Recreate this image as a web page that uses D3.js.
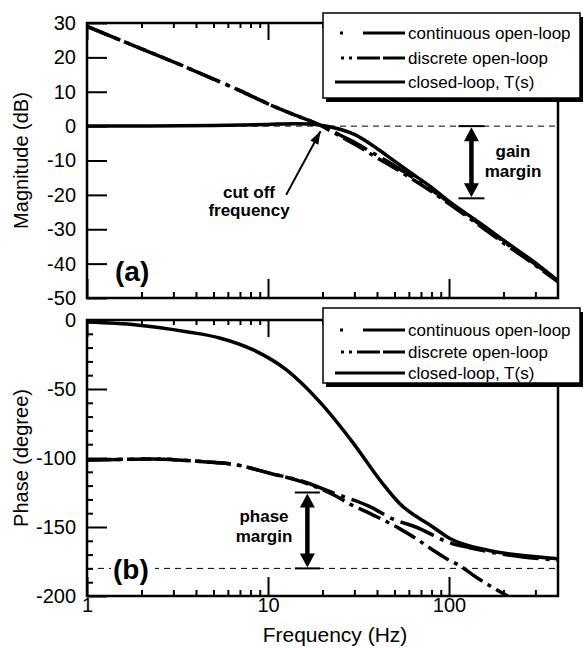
<!DOCTYPE html>
<html>

<head>
    <meta charset="utf-8">
    <title>Bode Plot</title>
    <script src="https://d3js.org/d3.v7.min.js"></script>
    <style>
        body {
            margin: 0;
            background: white;
        }

        text {
            font-family: "Liberation Sans", Arial, sans-serif;
            fill: black;
        }
    </style>
</head>

<body>
    <div class="inner"></div>
    <script>
        // magnitude (dB)
        const freqMagOpen = [1, 2, 3, 5, 7, 10, 14, 17, 20, 22, 25, 30, 40, 50, 60, 80, 100, 150, 200, 300, 400]
        const magContinuous = [29, 22.5, 18.7, 13.7, 10.3, 6.5, 3.3, 1.6, 0, -1.1, -2.6, -4.7, -8.5, -11.5, -14.2, -18.5, -22.2, -28.8, -33.6, -40.2, -45]
        const magDiscrete = [29, 22.5, 18.7, 13.7, 10.3, 6.5, 3.3, 1.5, -0.1, -1.3, -2.9, -5.2, -9.2, -12.2, -14.8, -19, -22.6, -29.2, -34, -40.5, -45.3]
        const freqMagClosed = [1, 2, 5, 10, 14, 17, 20, 25, 30, 40, 50, 60, 80, 100, 150, 200, 300, 400]
        const magClosed = [0, 0.05, 0.2, 0.5, 0.7, 0.6, 0.2, -0.9, -2.4, -6.5, -10.2, -13.2, -17.8, -21.9, -28.4, -33.2, -39.8, -45]

        // phase (degree)
        const freqPhaseContinuous = [1, 1.5, 2.3, 3, 4.4, 6.7, 10.2, 15.6, 23.7, 36.3, 48.5, 65.5, 104, 130, 166, 250, 400]
        const phaseContinuous = [-101.5, -101, -100.7, -101.2, -102.7, -105, -111, -117, -126, -135, -144, -150, -162, -165, -168, -171.5, -174]
        const freqPhaseDiscrete = [1, 1.5, 2.3, 3, 4.4, 6.7, 10.2, 15.6, 23.7, 28, 36.3, 45, 53, 65, 81, 100, 113, 140, 170, 214]
        const phaseDiscrete = [-101.5, -101, -100.7, -101.2, -102.7, -105, -111, -117.5, -127.5, -133, -140, -146, -151, -158, -166.5, -174, -177.5, -186, -193, -200.5]
        const freqPhaseClosed = [1, 1.88, 3.55, 5.4, 8.3, 12.6, 19.2, 29.5, 42.7, 53, 81.5, 100, 166, 250, 400]
        const phaseClosed = [-1.5, -3.6, -8.5, -13, -21.7, -36, -59, -89, -118, -132.6, -150, -158, -167, -170.5, -173]

        const magTicks = [-50, -40, -30, -20, -10, 0, 10, 20, 30]
        const phaseTicks = [-200, -150, -100, -50, 0]
        const phaseMinorTicks = d3.range(-190, 0, 10).filter(d => d % 50 !== 0)
        const freqTicks = [1, 10, 100]
        const freqMinorTicks = [2, 3, 4, 5, 6, 7, 8, 9, 20, 30, 40, 50, 60, 70, 80, 90, 200, 300]
        const legendLabels = ["continuous open-loop", "discrete open-loop", "closed-loop, T(s)"]

        const w = 586
        const h = 648
        const left = 87, right = 558
        const magBox = { top: 23, bottom: 298 }
        const phaseBox = { top: 320, bottom: 596 }

        const xScale = d3.scaleLog().domain([1, 400]).range([left, right])
        const yMag = d3.scaleLinear().domain([-50, 30]).range([magBox.bottom, magBox.top])
        const yPhase = d3.scaleLinear().domain([-200, 0]).range([phaseBox.bottom, phaseBox.top])

        const svg = d3.select(".inner")
            .append("svg")
            .attr("width", w)
            .attr("height", h)

        svg.append("rect").attr("width", w).attr("height", h).attr("fill", "white")

        const defs = svg.append("defs")
        defs.append("clipPath").attr("id", "clipMag")
            .append("rect").attr("x", left).attr("y", magBox.top)
            .attr("width", right - left).attr("height", magBox.bottom - magBox.top)
        defs.append("clipPath").attr("id", "clipPhase")
            .append("rect").attr("x", left).attr("y", phaseBox.top)
            .attr("width", right - left).attr("height", phaseBox.bottom - phaseBox.top)

        const noLabel = () => ""
        const plain = d => String(d)

        function styleAxis(g) {
            g.select(".domain").remove()
            g.selectAll("line").attr("stroke", "black").attr("stroke-width", 2)
            g.selectAll("text")
                .style("font-family", '"Liberation Sans", Arial, sans-serif')
                .style("font-size", "20px")
                .attr("fill", "black")
        }

        function drawPanel(yScale, box, yTicks, yMinor, showXLabels) {
            const g = svg.append("g")
            // left axis
            g.append("g").attr("transform", "translate(" + left + ",0)")
                .call(d3.axisLeft(yScale).tickValues(yTicks).tickSize(-20).tickPadding(11).tickFormat(plain))
                .call(styleAxis)
            if (yMinor) {
                g.append("g").attr("transform", "translate(" + left + ",0)")
                    .call(d3.axisLeft(yScale).tickValues(yMinor).tickSize(-6).tickFormat(noLabel))
                    .call(styleAxis)
            }
            // bottom axis
            g.append("g").attr("transform", "translate(0," + box.bottom + ")")
                .call(d3.axisBottom(xScale).tickValues(freqTicks).tickSize(-19).tickPadding(2)
                    .tickFormat(showXLabels ? plain : noLabel))
                .call(styleAxis)
            g.append("g").attr("transform", "translate(0," + box.bottom + ")")
                .call(d3.axisBottom(xScale).tickValues(freqMinorTicks).tickSize(-6).tickFormat(noLabel))
                .call(styleAxis)
            // top axis
            g.append("g").attr("transform", "translate(0," + box.top + ")")
                .call(d3.axisTop(xScale).tickValues(freqTicks).tickSize(-17).tickFormat(noLabel))
                .call(styleAxis)
            g.append("g").attr("transform", "translate(0," + box.top + ")")
                .call(d3.axisTop(xScale).tickValues(freqMinorTicks).tickSize(-5).tickFormat(noLabel))
                .call(styleAxis)
            return g
        }

        drawPanel(yMag, magBox, magTicks, null, false)
        drawPanel(yPhase, phaseBox, phaseTicks, phaseMinorTicks, true)

        // reference dashed lines at 0 dB and -180 deg
        svg.append("line")
            .attr("x1", left).attr("x2", right)
            .attr("y1", yMag(0)).attr("y2", yMag(0))
            .attr("stroke", "black").attr("stroke-width", 1).attr("stroke-dasharray", "6,5")
        svg.append("line")
            .attr("x1", left).attr("x2", right)
            .attr("y1", yPhase(-180)).attr("y2", yPhase(-180))
            .attr("stroke", "black").attr("stroke-width", 1).attr("stroke-dasharray", "6,5")

        const pairs = (xs, ys) => xs.map((f, i) => [f, ys[i]])

        function drawCurve(clip, yScale, data, dash) {
            const line = d3.line()
                .x(d => xScale(d[0]))
                .y(d => yScale(d[1]))
                .curve(d3.curveMonotoneX)
            svg.append("path")
                .datum(data)
                .attr("clip-path", "url(#" + clip + ")")
                .attr("d", line)
                .attr("fill", "none")
                .attr("stroke", "black")
                .attr("stroke-width", 3.5)
                .attr("stroke-dasharray", dash)
        }

        const dashOpen = "36,7,4,7"
        const dashDiscrete = "24,6,4,6"

        drawCurve("clipMag", yMag, pairs(freqMagClosed, magClosed), null)
        drawCurve("clipMag", yMag, pairs(freqMagOpen, magDiscrete), dashDiscrete)
        drawCurve("clipMag", yMag, pairs(freqMagOpen, magContinuous), dashOpen)

        drawCurve("clipPhase", yPhase, pairs(freqPhaseClosed, phaseClosed), null)
        drawCurve("clipPhase", yPhase, pairs(freqPhaseDiscrete, phaseDiscrete), dashDiscrete)
        drawCurve("clipPhase", yPhase, pairs(freqPhaseContinuous, phaseContinuous), dashOpen)

        // frame
        svg.append("rect").attr("x", left).attr("y", magBox.top)
            .attr("width", right - left).attr("height", magBox.bottom - magBox.top)
            .attr("fill", "none").attr("stroke", "black").attr("stroke-width", 2.5)
        svg.append("rect").attr("x", left).attr("y", phaseBox.top)
            .attr("width", right - left).attr("height", phaseBox.bottom - phaseBox.top)
            .attr("fill", "none").attr("stroke", "black").attr("stroke-width", 2.5)

        // arrow helpers
        function arrowHead(x1, y1, x2, y2, len, wid) {
            const a = Math.atan2(y2 - y1, x2 - x1)
            const bx = x2 - len * Math.cos(a), by = y2 - len * Math.sin(a)
            const nx = -Math.sin(a) * wid / 2, ny = Math.cos(a) * wid / 2
            svg.append("path")
                .attr("d", `M${x2},${y2}L${bx + nx},${by + ny}L${bx - nx},${by - ny}Z`)
                .attr("fill", "black")
        }

        function marginArrow(x, y0, y1, barHalf) {
            svg.append("line").attr("x1", x).attr("x2", x)
                .attr("y1", y0 + 10).attr("y2", y1 - 10)
                .attr("stroke", "black").attr("stroke-width", 4.5)
            arrowHead(x, y1, x, y0 + 1, 14, 15)
            arrowHead(x, y0, x, y1 - 1, 14, 15)
            ;[y0, y1].forEach(y => {
                svg.append("line").attr("x1", x - barHalf).attr("x2", x + barHalf)
                    .attr("y1", y).attr("y2", y)
                    .attr("stroke", "black").attr("stroke-width", 2)
            })
        }

        function boldLabel(x, y, txt, size) {
            svg.append("text")
                .attr("x", x).attr("y", y)
                .attr("text-anchor", "middle")
                .style("font-size", size + "px")
                .style("font-weight", "bold")
                .text(txt)
        }

        // gain margin
        marginArrow(xScale(133), yMag(0), yMag(-21), 13)
        boldLabel(513, 157, "gain", 17)
        boldLabel(513, 177, "margin", 17)

        // phase margin
        marginArrow(xScale(16.5), yPhase(-125), yPhase(-180), 12.5)
        boldLabel(264, 522, "phase", 17)
        boldLabel(264, 542, "margin", 17)

        // cut off frequency
        const cutFrom = [xScale(12.6), yMag(-20)]
        const cutTo = [xScale(19.5), yMag(-1.5)]
        svg.append("line")
            .attr("x1", cutFrom[0]).attr("y1", cutFrom[1])
            .attr("x2", cutTo[0]).attr("y2", cutTo[1])
            .attr("stroke", "black").attr("stroke-width", 2)
        arrowHead(cutFrom[0], cutFrom[1], cutTo[0], cutTo[1], 13, 9)
        boldLabel(249, 198, "cut off", 17)
        boldLabel(249, 216, "frequency", 17)

        // panel letters
        svg.append("text").attr("x", 115).attr("y", 281)
            .style("font-size", "28px").style("font-weight", "bold").text("(a)")
        svg.append("rect").attr("x", 111).attr("y", 558).attr("width", 44).attr("height", 22).attr("fill", "white")
        svg.append("text").attr("x", 113).attr("y", 579)
            .style("font-size", "28px").style("font-weight", "bold").text("(b)")

        // axis titles
        svg.append("text")
            .attr("transform", "translate(28," + (magBox.top + magBox.bottom) / 2 + ") rotate(-90)")
            .attr("text-anchor", "middle")
            .style("font-size", "20px")
            .text("Magnitude (dB)")
        svg.append("text")
            .attr("transform", "translate(28," + (phaseBox.top + phaseBox.bottom) / 2 + ") rotate(-90)")
            .attr("text-anchor", "middle")
            .style("font-size", "20px")
            .text("Phase (degree)")
        svg.append("text")
            .attr("x", 335).attr("y", 642)
            .attr("text-anchor", "middle")
            .style("font-size", "21px")
            .text("Frequency (Hz)")

        // legends
        const legendDash = ["3,20,42", "3,5,3,5,23,3,23", null]
        const legendStart = [340, 341, 335]

        function drawLegend(x, y, bw, bh, rowYs) {
            const g = svg.append("g")
            g.append("rect").attr("x", x + 3).attr("y", y + 4)
                .attr("width", bw).attr("height", bh).attr("fill", "black")
            g.append("rect").attr("x", x).attr("y", y)
                .attr("width", bw).attr("height", bh)
                .attr("fill", "white").attr("stroke", "black").attr("stroke-width", 1.5)
            legendLabels.forEach((lab, i) => {
                g.append("line")
                    .attr("x1", legendStart[i]).attr("x2", 405)
                    .attr("y1", rowYs[i] - 6).attr("y2", rowYs[i] - 6)
                    .attr("stroke", "black").attr("stroke-width", 3)
                    .attr("stroke-dasharray", legendDash[i])
                g.append("text")
                    .attr("x", 408).attr("y", rowYs[i])
                    .style("font-size", "17px")
                    .text(lab)
            })
        }

        drawLegend(323, 13, 257, 85, [39, 64, 88])
        drawLegend(323, 308, 257, 75, [336, 358, 379])
    </script>
</body>

</html>
